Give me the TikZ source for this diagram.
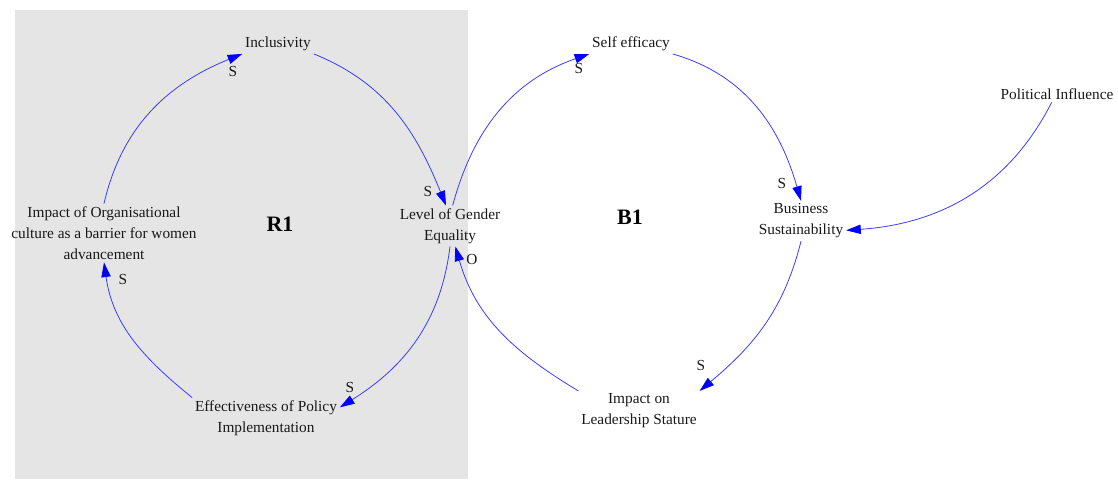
\documentclass[tikz,border=0pt]{standalone}
\usepackage{fontspec}
\setmainfont{Liberation Serif}
\usetikzlibrary{arrows.meta,positioning}
\definecolor{loopgray}{RGB}{229,229,229}
\definecolor{linkblue}{RGB}{60,60,255}

\begin{document}
\begin{tikzpicture}[
    x=0.75pt, y=0.75pt,
    var/.style={align=center, font=\fontsize{11.5}{15.75}\selectfont, inner sep=2pt, text=black!90},
    sign/.style={font=\fontsize{11.5}{13}\selectfont, inner sep=0pt, text=black!90},
    looplabel/.style={font=\fontsize{16.5}{18}\selectfont\bfseries},
    link/.style={draw=linkblue, line width=0.6pt, -{Triangle[length=11pt,width=7pt,color=blue]}},
]
\useasboundingbox (0,0) rectangle (1118,-479);

% ---- shaded panel behind the reinforcing loop ----
\fill[loopgray] (15,-10) rectangle (468,-479);

% ---- variables ----
\node[var] (incl) at (278,-44) {Inclusivity};
\node[var] (level) at (450,-226) {Level of Gender\\Equality};
\node[var] (eff) at (266,-418) {Effectiveness of Policy\\Implementation};
\node[var] (orgc) at (104,-233) {Impact of Organisational\\culture as a barrier for women\\advancement};
\node[var] (selfeff) at (631,-44) {Self efficacy};
\node[var] (bus) at (801,-221) {Business\\Sustainability};
\node[var] (lead) at (639,-411) {Impact on\\Leadership Stature};
\node[var] (pol) at (1057,-94) {Political Influence};

% ---- loop names ----
\node[looplabel] (r1) at (280,-224) {R1};
\node[looplabel] (b1) at (630,-217) {B1};

% ---- R1 links ----
\draw[link] (orgc.north) to[out=77,in=202] (incl.south west);
\draw[link] (incl.south east) to[out=-22,in=112] ([xshift=-3pt]level.north);
\draw[link] (level.south) to[out=263,in=32] ([yshift=8pt]eff.east);
\draw[link] (eff.north west) to[out=141,in=278] (orgc.south);

% ---- B1 links ----
\draw[link] ([xshift=2pt]level.north) to[out=75,in=199] (selfeff.south west);
\draw[link] (selfeff.south east) to[out=-16,in=106] (bus.north);
\draw[link] (bus.south) to[out=256,in=40] (lead.north east);
\draw[link] (lead.north west) to[out=149,in=286] ([xshift=4pt]level.south);

% ---- outside influence ----
\draw[link] ([xshift=-4pt]pol.south) to[out=243,in=4] ([yshift=-7pt]bus.east);

% ---- polarities ----
\node[sign] (s1) at (233,-71) {S};
\node[sign] (s2) at (428,-191) {S};
\node[sign] (s3) at (350,-387) {S};
\node[sign] (s4) at (123,-279) {S};
\node[sign] (s5) at (579,-68) {S};
\node[sign] (s6) at (782,-183) {S};
\node[sign] (s7) at (701,-365) {S};
\node[sign] (o1) at (472,-259) {O};

\end{tikzpicture}
\end{document}
